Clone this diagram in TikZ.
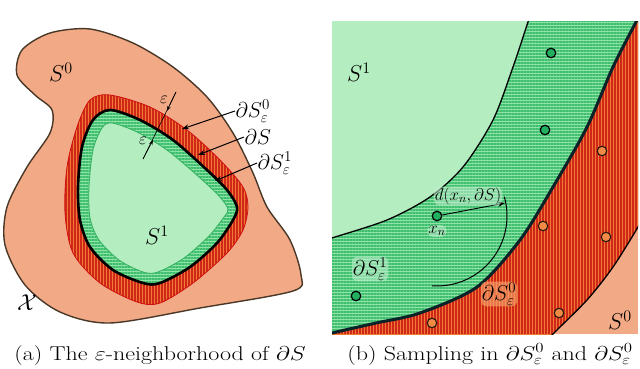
\RequirePackage{fix-cm}
\documentclass[tikz,border=0pt]{standalone}
\usetikzlibrary{patterns.meta,arrows.meta}
\definecolor{salmon}{HTML}{F2A985}
\definecolor{blobline}{HTML}{4A3828}
\definecolor{bandorange}{HTML}{F07A35}
\definecolor{bandred}{HTML}{D02818}
\definecolor{redline}{HTML}{D01010}
\definecolor{greenbase}{HTML}{8FE2A8}
\definecolor{greenstripe}{HTML}{3FBF6E}
\definecolor{lightgreen}{HTML}{B4EDBF}
\definecolor{greenline}{HTML}{30B060}
\definecolor{dotgreen}{HTML}{20B060}
\definecolor{dotorange}{HTML}{F08A45}
\definecolor{darkline}{HTML}{0A2228}
\begin{document}
\begin{tikzpicture}[x=1pt,y=-1pt,
  redband/.style={preaction={fill=bandorange},preaction={pattern={Lines[angle=90,distance=3pt,line width=1.1pt]},pattern color=bandred}},
  greenband/.style={preaction={fill=greenbase},preaction={pattern={Lines[angle=0,distance=3pt,line width=1.1pt]},pattern color=greenstripe}},
  biglbl/.style={font=\fontsize{23}{26}\selectfont,inner sep=1pt},
  midlbl/.style={font=\fontsize{21.5}{24}\selectfont,inner sep=0.5pt},
  smalllbl/.style={font=\fontsize{17}{19}\selectfont,inner sep=1pt},
  capt/.style={font=\fontsize{20}{22}\selectfont,anchor=base,inner sep=0pt,xscale=1.2,transform shape},
  ptr/.style={-{Stealth[length=7pt,width=5pt]},line width=1pt},
  epsarr/.style={-{Stealth[length=5pt,width=3.5pt]},line width=0.6pt},
  gdot/.style={circle,draw=black,fill=dotgreen,line width=1.2pt,inner sep=0pt,minimum size=9.5pt},
  odot/.style={circle,draw=black!80!brown,fill=dotorange,line width=1.1pt,inner sep=0pt,minimum size=9.5pt},
  halo/.style={rounded corners=6pt,inner sep=1pt}]
\useasboundingbox (0,0) rectangle (640,369);

% ---------------- left panel ----------------
\path[fill=salmon,draw=blobline,line width=1.4pt] plot[smooth cycle] coordinates {
 (90,29) (133,43) (173,67) (207,97) (233,133) (253,173) (267,207) (290,240) (301,275)
 (293,291) (200,308) (110,323) (60,312) (25,285) (5,245) (7,207) (27,167) (50,133)
 (52,110) (35,95) (17,75) (22,50) (50,33)};
% outer epsilon band
\path[redband,draw=redline,line width=0.8pt] plot[smooth cycle] coordinates {
 (110,95) (150,107) (187,130) (220,160) (243,187) (248,207) (243,230) (227,253)
 (193,283) (160,303) (137,302) (100,283) (73,253) (65,213) (67,167) (77,127) (90,100)};
% inner band (inside dS)
\path[greenband] plot[smooth cycle] coordinates {
 (110,110) (140,120) (173,140) (207,170) (227,190) (237,207) (233,220) (217,243)
 (190,267) (160,283) (143,283) (113,270) (90,247) (80,220) (78,187) (82,147) (93,120)};
% S^1 interior
\path[fill=lightgreen,draw=greenline,line width=0.8pt] plot[smooth cycle] coordinates {
 (112,123) (137,132) (167,150) (199,177) (219,196) (228,209) (224,217) (209,236)
 (184,258) (158,272) (143,272) (119,260) (99,240) (90,218) (89,187) (93,150) (102,128)};
% boundary dS
\draw[black,line width=2.6pt] plot[smooth cycle] coordinates {
 (110,110) (140,120) (173,140) (207,170) (227,190) (237,207) (233,220) (217,243)
 (190,267) (160,283) (143,283) (113,270) (90,247) (80,220) (78,187) (82,147) (93,120)};

% epsilon marks
\coordinate (e1) at (176,92);
\coordinate (e2) at (143,159);
\coordinate (e1t) at (167,111);
\coordinate (e2t) at (153,140);
\draw[line width=0.6pt] (e1) -- (e2);
\draw[epsarr] (e1) -- (e1t);
\draw[epsarr] (e2) -- (e2t);
\node[smalllbl] (eps1) at (164,100) {$\varepsilon$};
\node[smalllbl] (eps2) at (143,141) {$\varepsilon$};

% labels
\node[biglbl] (S0a) at (61,72) {$S^0$};
\node[biglbl] (S1a) at (157,235) {$S^1$};
\node[biglbl] (Xa) at (27,303) {$\mathcal{X}$};
\node[midlbl,anchor=west] (dS0a) at (235,111) {$\partial S^0_\varepsilon$};
\node[midlbl,anchor=west] (dSa) at (244,137) {$\partial S$};
\node[midlbl,anchor=west] (dS1a) at (257,163) {$\partial S^1_\varepsilon$};
\coordinate (t1) at (182,129);
\coordinate (t2) at (198,155);
\coordinate (t3) at (215,181);
\draw[ptr] (dS0a.west) -- (t1);
\draw[ptr] (dSa.west) -- (t2);
\draw[ptr] (dS1a.west) -- (t3);

% ---------------- right panel ----------------
\begin{scope}
\clip (332,22) rectangle (638,334);
\fill[salmon] (332,22) rectangle (638,334);
\path[redband] plot[smooth] coordinates {(543,346) (553,334) (587,300) (613,267) (638,227) (648,208)}
  -- (660,0) -- (320,0) -- (320,350) -- cycle;
\path[greenband] plot[smooth] coordinates {(318,337) (332,333) (376,323) (420,313) (477,287) (520,240) (553,187) (587,127) (613,67) (636,22) (645,4)}
  -- (320,0) -- (318,337) -- cycle;
\path[fill=lightgreen] plot[smooth] coordinates {(318,243) (332,238) (387,220) (430,197) (463,167) (493,120) (513,67) (528,22) (533,8)}
  -- (318,8) -- cycle;
\draw[black,line width=1.3pt] plot[smooth] coordinates {(543,346) (553,334) (587,300) (613,267) (638,227) (648,208)};
\draw[black,line width=1.3pt] plot[smooth] coordinates {(318,243) (332,238) (387,220) (430,197) (463,167) (493,120) (513,67) (528,22) (533,8)};
\draw[darkline,line width=3pt] plot[smooth] coordinates {(318,337) (332,333) (376,323) (420,313) (477,287) (520,240) (553,187) (587,127) (613,67) (636,22) (645,4)};
\end{scope}

% distance arc and arrow
\node[gdot] (xn) at (437,216) {};
\draw[line width=1pt] (437,216) ++(-16:70) arc[start angle=-16,end angle=94,radius=70];
\coordinate (xe) at (505,203);
\draw[ptr,line width=0.9pt] (xn) -- (xe);

% sample dots
\node[gdot] (g1) at (551,53) {};
\node[gdot] (g2) at (545,130) {};
\node[gdot] (g3) at (356,296) {};
\node[odot] (o1) at (602,151) {};
\node[odot] (o2) at (543,226) {};
\node[odot] (o3) at (606,237) {};
\node[odot] (o4) at (559,313) {};
\node[odot] (o5) at (432,323) {};

% right labels
\node[biglbl] (S1b) at (359,72) {$S^1$};
\node[biglbl] (S0b) at (620,320) {$S^0$};
\node[midlbl,halo,fill=greenbase!60!white,fill opacity=0.6,text opacity=1] (dS1b) at (370,269) {$\partial S^1_\varepsilon$};
\node[midlbl,halo,fill=bandorange!75!white,fill opacity=0.7,text opacity=1] (dS0b) at (499,294) {$\partial S^0_\varepsilon$};
\node[smalllbl,halo,fill=greenbase!50!white,fill opacity=0.55,text opacity=1] (dlab) at (468,196) {$d(x_n,\partial S)$};
\node[smalllbl,halo,fill=greenbase!50!white,fill opacity=0.55,text opacity=1] (xnlab) at (437,231) {$x_n$};

% captions
\node[capt] (capa) at (160,360) {(a) The $\varepsilon$-neighborhood of $\partial S$};
\node[capt] (capb) at (490,360) {(b) Sampling in $\partial S^0_\varepsilon$ and $\partial S^0_\varepsilon$};
\end{tikzpicture}
\end{document}
